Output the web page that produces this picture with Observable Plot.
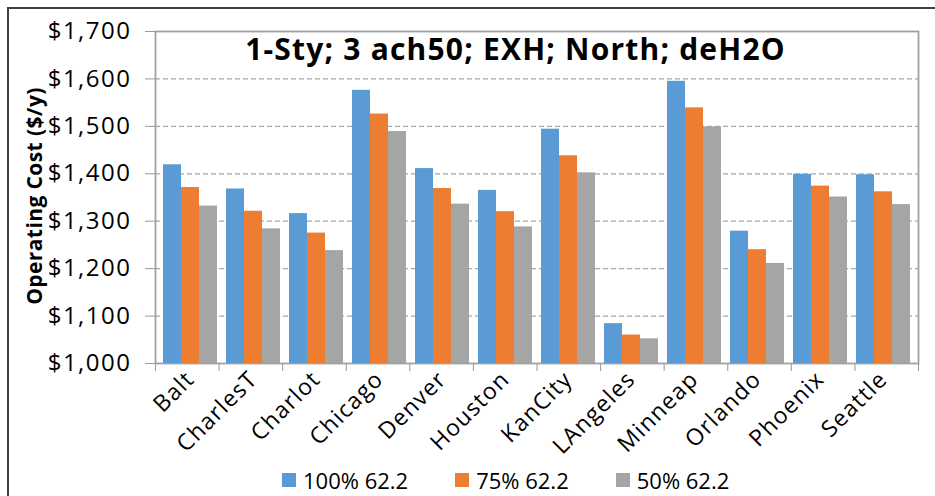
<!DOCTYPE html>
<html><head><meta charset="utf-8">
<script src="https://cdn.jsdelivr.net/npm/d3@7"></script>
<script src="https://cdn.jsdelivr.net/npm/@observablehq/plot@0.6"></script>
<style>
body{margin:0;background:#fff;}
#wrap{position:relative;width:935px;height:496px;overflow:hidden;font-family:"Open Sans",sans-serif;background:#fff;}
#wrap svg{position:absolute;left:0;top:0;}
#outer{position:absolute;left:7px;top:7px;width:2000px;height:2000px;border-left:2px solid #404040;border-top:2px solid #404040;}
#title{position:absolute;left:134px;width:763px;top:28px;text-align:center;font-weight:bold;font-size:30px;letter-spacing:1.2px;color:#000;white-space:nowrap;}
#ytitle{position:absolute;left:34px;top:196px;transform:translate(-50%,-50%) rotate(-90deg);font-weight:bold;font-size:21px;letter-spacing:0.4px;white-space:nowrap;color:#000;}
#legend{position:absolute;left:282px;top:465px;display:flex;gap:47px;font-size:22px;color:#000;}
#legend .it{display:flex;align-items:center;gap:7px;}
#legend .sw{width:14px;height:14px;display:inline-block;}
</style></head>
<body>
<div id="wrap"><div id="outer"></div></div>
<script>
const cities = ["Balt","CharlesT","Charlot","Chicago","Denver","Houston","KanCity","LAngeles","Minneap","Orlando","Phoenix","Seattle"];
const series = ["100% 62.2","75% 62.2","50% 62.2"];
const v100 = [1419,1368,1316,1576,1411,1365,1494,1084,1595,1279,1399,1398];
const v75  = [1371,1321,1275,1526,1369,1320,1438,1060,1539,1240,1374,1362];
const v50  = [1332,1284,1238,1489,1336,1288,1402,1052,1499,1211,1351,1335];
const colors = ["#5B9BD5","#ED7D31","#A5A5A5"];
const yTicks = [1000,1100,1200,1300,1400,1500,1600,1700];
const titleText = "1-Sty; 3 ach50; EXH; North; deH2O";
const yLabel = "Operating Cost ($/y)";

const vals = [v100, v75, v50];
const data = [];
cities.forEach((c, i) => series.forEach((s, j) => data.push({city: c, series: s, value: vals[j][i]})));
const yMin = yTicks[0], yMax = yTicks[yTicks.length - 1];

const common = {width: 935, height: 496, marginLeft: 155, marginRight: 17, marginTop: 31, marginBottom: 133};

const base = Plot.plot({
  ...common,
  style: {fontFamily: "Open Sans", fontSize: "24px", letterSpacing: "1.5px", color: "#000", background: "transparent"},
  x: {domain: [0, cities.length]},
  y: {domain: [yMin, yMax]},
  marks: [
    Plot.gridY(yTicks.slice(1, -1), {stroke: "#a6a6a6", strokeOpacity: 1, strokeDasharray: "5,3", strokeWidth: 1.3}),
    Plot.axisY(yTicks, {tickSize: 10, tickPadding: 14, stroke: "#999", tickFormat: d => "$" + d3.format(",")(d), label: null}),
    Plot.axisX(d3.range(cities.length + 1), {tickSize: 8, stroke: "#999", tickFormat: () => "", label: null}),
    Plot.frame({stroke: "#a0a0a0", strokeWidth: 1.8})
  ]
});

const bars = Plot.plot({
  ...common,
  style: {fontFamily: "Open Sans", fontSize: "23px", letterSpacing: "1.2px", color: "#000", background: "transparent"},
  fx: {domain: cities, paddingInner: 0.14, paddingOuter: 0.07, label: null},
  x: {domain: series, padding: 0, axis: null},
  y: {domain: [yMin, yMax], axis: null},
  color: {domain: series, range: colors},
  marks: [
    Plot.barY(data, {fx: "city", x: "series", y1: () => yMin, y2: "value", fill: "series"}),
    Plot.axisFx({anchor: "bottom", tickRotate: -45, tickSize: 0, tickPadding: 12, label: null})
  ]
});

const wrap = document.getElementById("wrap");
wrap.appendChild(base);
wrap.appendChild(bars);

const t = document.createElement("div"); t.id = "title"; t.textContent = titleText; wrap.appendChild(t);
const yt = document.createElement("div"); yt.id = "ytitle"; yt.textContent = yLabel; wrap.appendChild(yt);
const lg = document.createElement("div"); lg.id = "legend";
series.forEach((s, j) => {
  const it = document.createElement("div"); it.className = "it";
  const sw = document.createElement("span"); sw.className = "sw"; sw.style.background = colors[j];
  const tx = document.createElement("span"); tx.textContent = s;
  it.appendChild(sw); it.appendChild(tx); lg.appendChild(it);
});
wrap.appendChild(lg);
</script>
</body></html>
